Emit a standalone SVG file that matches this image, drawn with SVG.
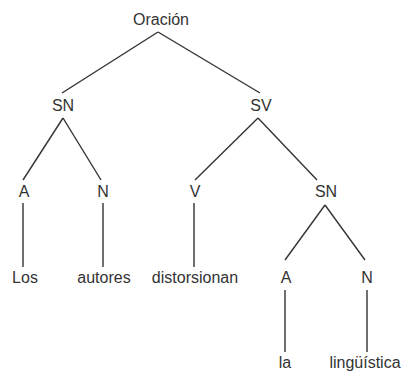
<svg xmlns="http://www.w3.org/2000/svg" width="401" height="372" viewBox="0 0 401 372">
<style>
text{font-family:"Liberation Sans",Arial,sans-serif;font-size:16px;fill:#333;text-anchor:middle}
.e line{stroke:#333;stroke-width:1.4;fill:none}
</style>
<rect width="401" height="372" fill="#fff"/>
<g class="e" id="connectors">
<line x1="158" y1="32" x2="62" y2="93"/>
<line x1="158" y1="32" x2="260" y2="93"/>
<line x1="63" y1="118" x2="23" y2="180"/>
<line x1="63" y1="118" x2="101" y2="180"/>
<line x1="258" y1="118" x2="195" y2="180"/>
<line x1="258" y1="118" x2="317" y2="180"/>
<line x1="23" y1="203" x2="23" y2="267"/>
<line x1="103" y1="203" x2="103" y2="267"/>
<line x1="194" y1="203" x2="194" y2="267"/>
<line x1="325" y1="205" x2="285" y2="260"/>
<line x1="325" y1="205" x2="365" y2="260"/>
<line x1="285" y1="290" x2="285" y2="352"/>
<line x1="367" y1="290" x2="367" y2="352"/>
</g>
<g id="oracion"><text x="161" y="25">Oración</text></g>
<g id="sn1"><text x="63" y="111">SN</text></g>
<g id="sv"><text x="261" y="111">SV</text></g>
<g id="a1"><text x="24" y="197">A</text></g>
<g id="n1"><text x="103" y="197">N</text></g>
<g id="v"><text x="195" y="197">V</text></g>
<g id="sn2"><text x="326" y="197">SN</text></g>
<g id="los"><text x="25" y="283">Los</text></g>
<g id="autores"><text x="104" y="283">autores</text></g>
<g id="distorsionan"><text x="195" y="283">distorsionan</text></g>
<g id="a2"><text x="286" y="283">A</text></g>
<g id="n2"><text x="367" y="283">N</text></g>
<g id="la"><text x="285" y="368">la</text></g>
<g id="linguistica"><text x="365" y="368">lingüística</text></g>
</svg>
